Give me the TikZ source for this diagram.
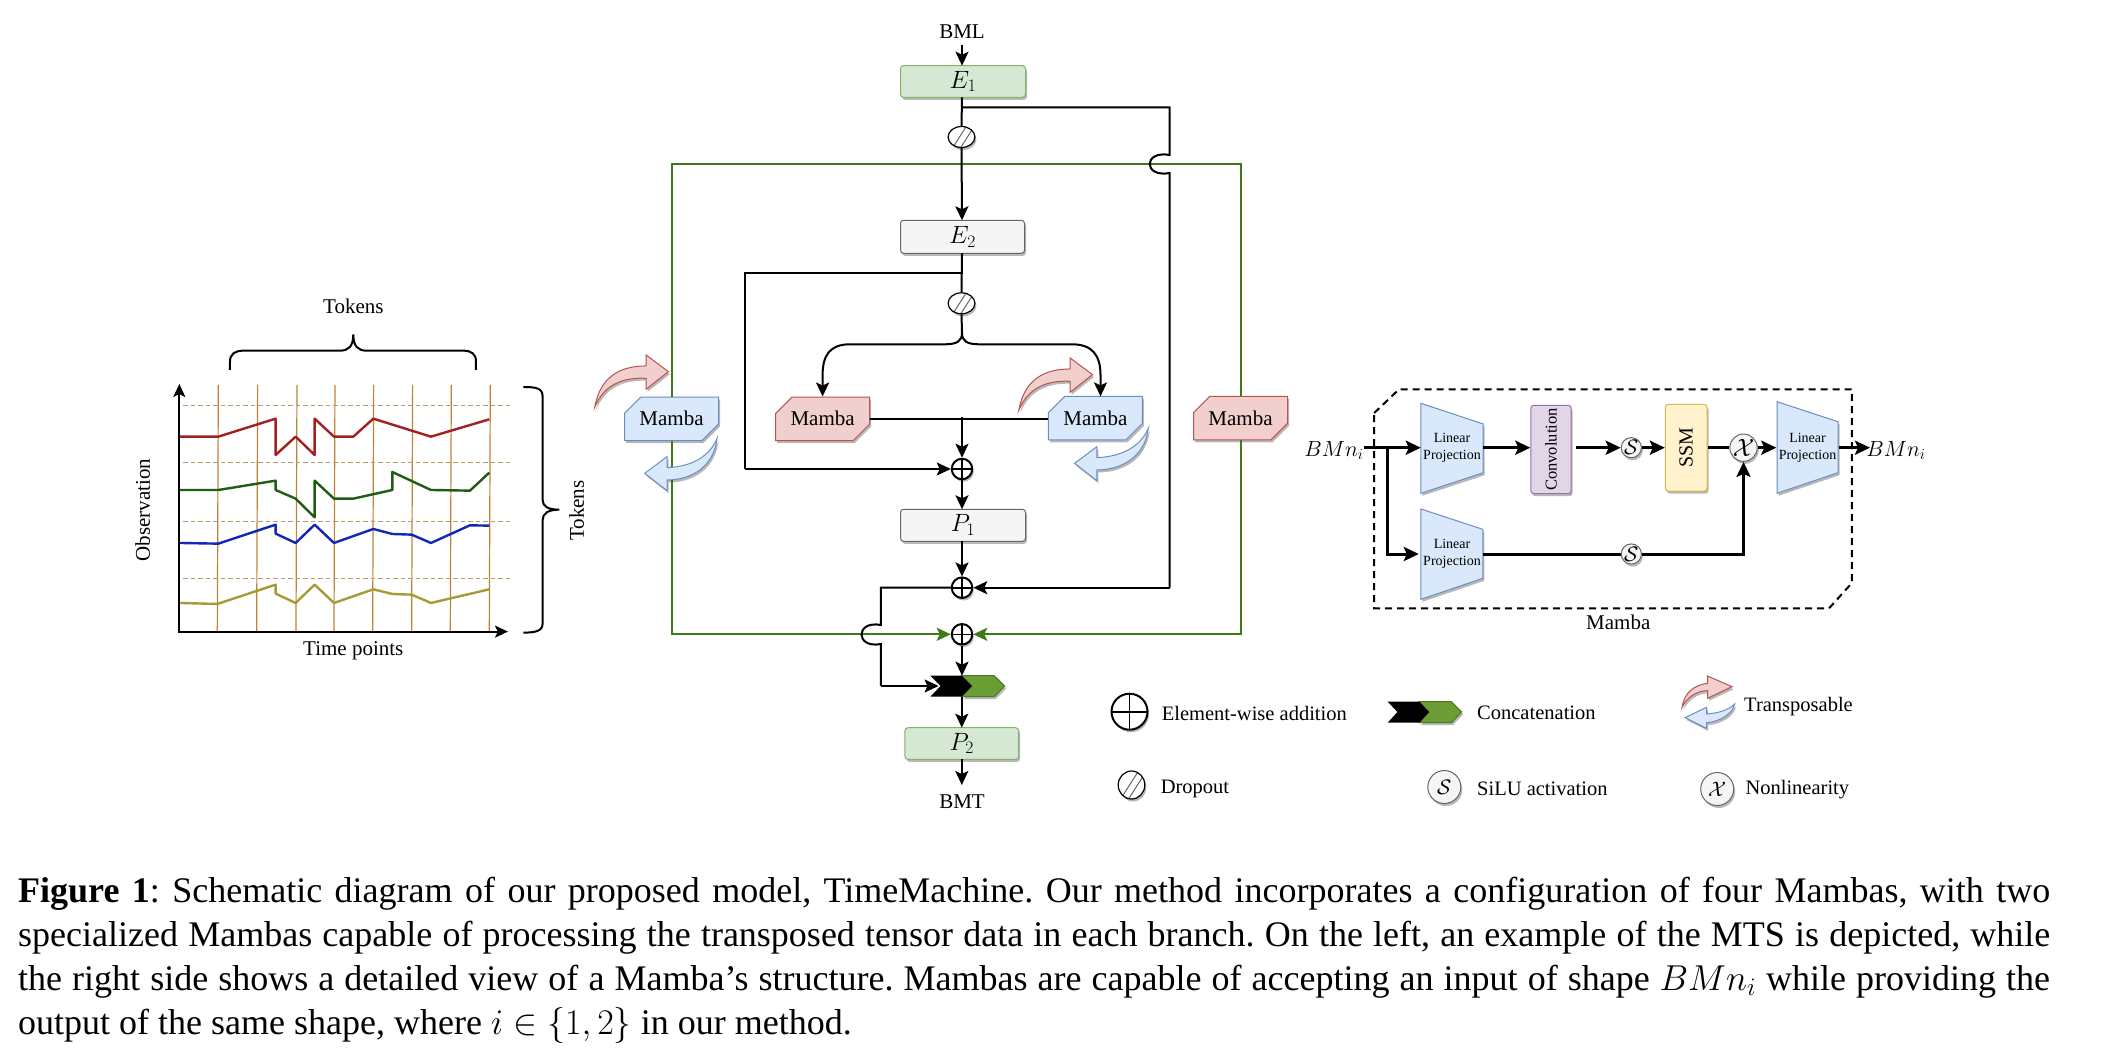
\documentclass[tikz,border=0pt]{standalone}
\usepackage{fix-cm}
\usepackage[no-math]{fontspec}
\setmainfont{Liberation Serif}
\usetikzlibrary{arrows.meta,shapes.misc,shapes.geometric,shadows}
\definecolor{gfill}{HTML}{D5E8D4}\definecolor{gline}{HTML}{82B366}
\definecolor{grayf}{HTML}{F5F5F5}\definecolor{grayl}{HTML}{666666}
\definecolor{rfill}{HTML}{F0CFCC}\definecolor{rline}{HTML}{B85450}
\definecolor{bfill}{HTML}{DAE8FC}\definecolor{bline}{HTML}{6C8EBF}
\definecolor{pfill}{HTML}{E1D5E7}\definecolor{pline}{HTML}{9673A6}
\definecolor{yfill}{HTML}{FFF2CC}\definecolor{yline}{HTML}{D6B656}
\definecolor{grn}{HTML}{3F7A18}\definecolor{chev}{HTML}{6A9E34}
\definecolor{grid}{HTML}{BF8338}\definecolor{dashc}{HTML}{BC9A6C}
\definecolor{ser1}{HTML}{A32020}\definecolor{ser2}{HTML}{1F5C14}
\definecolor{ser3}{HTML}{1226B8}\definecolor{ser4}{HTML}{A89A35}
\newcommand{\fsz}[1]{\fontsize{#1}{#1}\selectfont}
\newcommand{\blk}[1]{\fsz{25}$#1$}
\tikzset{
  x=1pt,y=-1pt,
  txt/.style={font=\fsz{21},inner sep=0pt},
  shd/.style={drop shadow={shadow xshift=1.5pt,shadow yshift=-2.5pt,opacity=.28,fill=black}},
  blockbox/.style={txt,draw,rounded corners=3pt,line width=1pt,inner sep=0pt,shd},
  gbox/.style={blockbox,draw=gline,fill=gfill},
  wbox/.style={blockbox,draw=grayl,fill=grayf},
  mamb/.style={txt,chamfered rectangle,chamfered rectangle corners={north west,south east},
     chamfered rectangle xsep=11pt,chamfered rectangle ysep=9pt,line width=1pt,draw,
     minimum width=94pt,minimum height=43.5pt,shd},
  mred/.style={mamb,draw=rline,fill=rfill},
  mblue/.style={mamb,draw=bline,fill=bfill},
  wire/.style={line width=2pt,black},
  arr/.style={wire,-{Stealth[length=14pt,width=13pt,inset=3pt]}},
  gwire/.style={line width=2pt,grn},
  garr/.style={gwire,-{Stealth[length=14pt,width=13pt,inset=3pt]}},
  tw/.style={line width=3pt,black},
  tarr/.style={tw,-{Stealth[length=15pt,width=14pt,inset=3pt]}},
  adder/.style={circle,draw,line width=2pt,fill=white,inner sep=0pt,minimum size=#1,shd,
     path picture={\draw[line width=1.6pt] (path picture bounding box.north) -- (path picture bounding box.south)
       (path picture bounding box.west) -- (path picture bounding box.east);}},
  dropc/.style={ellipse,draw,line width=1.2pt,fill=white,inner sep=0pt,shd,
     path picture={\draw[grayl,line width=1pt]
       ([xshift=-9pt,yshift=-11pt]path picture bounding box.center) -- ([xshift=7pt,yshift=14pt]path picture bounding box.center)
       ([xshift=-3pt,yshift=-14pt]path picture bounding box.center) -- ([xshift=13pt,yshift=11pt]path picture bounding box.center);}},
  act/.style={circle,draw=grayl,fill=grayf,line width=1pt,inner sep=0pt,minimum size=#1,shd},
  redc/.style={draw=rline,fill=rfill,line width=1pt,shd},
  bluec/.style={draw=bline,fill=bfill,line width=1pt,shd},
  trap/.style={draw=bline,fill=bfill,line width=1pt,shd},
  lab/.style={font=\fsz{14},inner sep=0pt,align=center},
  lp/.style={lab,minimum width=62pt,minimum height=40pt},
  leg/.style={font=\fsz{20.5},inner sep=0pt,anchor=west},
  ser/.style={line width=2.4pt,line join=round},
  gr/.style={grid,line width=1.2pt},
  dsh/.style={dashc,line width=1pt,dash pattern=on 4.5pt off 3pt},
}
\begin{document}
\begin{tikzpicture}
\fill[white] (0,0) rectangle (2108,1054);
\useasboundingbox (0,0) rectangle (2108,1054);

%% ---------- left chart (coordinates in zoom units)
\begin{scope}[shift={(120,280)},x=0.3333pt,y=-0.3333pt]
  \foreach \b/\t in {292/295,410/413,528/531,642/645,758/761,875/878,991/994,1108/1111}
    \draw[gr] (\b,1055) -- (\t,315);
  \foreach \y in {378,548,725,897} \draw[dsh] (190,\y) -- (1170,\y);
  \draw[ser,ser1] (180,470)--(295,470)--(467,416)--(467,525)--(527,470)--(584,525)--(584,416)--(642,470)--(700,470)--(760,416)--(933,470)--(1108,418);
  \draw[ser,ser2] (180,630)--(295,630)--(467,602)--(467,630)--(527,656)--(584,712)--(584,602)--(642,656)--(700,656)--(817,630)--(817,576)--(933,630)--(1050,632)--(1108,578);
  \draw[ser,ser3] (180,789)--(295,791)--(467,734)--(467,761)--(527,789)--(584,734)--(642,789)--(760,747)--(817,762)--(875,764)--(933,789)--(1050,736)--(1108,737);
  \draw[ser,ser4] (180,969)--(292,972)--(467,914)--(467,941)--(527,969)--(584,914)--(642,969)--(760,928)--(817,942)--(875,944)--(933,969)--(1108,928);
  \coordinate (org) at (178,1055);
  \coordinate (ytop) at (178,312);
  \coordinate (xend) at (1164,1055);
  \draw[line width=2pt] (330,270) -- (330,245) .. controls (330,222) and (345,212) .. (370,212) -- (660,212) .. controls (685,212) and (700,200) .. (700,163) .. controls (700,200) and (715,212) .. (740,212) -- (1030,212) .. controls (1055,212) and (1068,222) .. (1068,245) -- (1068,270);
  \draw[line width=2pt] (1210,321) .. controls (1250,321) and (1268,325) .. (1268,350) -- (1268,660) .. controls (1268,680) and (1285,689) .. (1318,689) .. controls (1285,689) and (1268,700) .. (1268,720) -- (1268,1030) .. controls (1268,1052) and (1250,1058) .. (1210,1058);
  \node[txt] (tok1) at (700,80) {Tokens};
  \node[txt] (tim) at (700,1113) {Time points};
  \node[txt,rotate=90] (obs) at (68,690) {Observation};
  \node[txt,rotate=90] (tok2) at (1370,692) {Tokens};
\end{scope}
\draw[line width=2pt,{Stealth[length=13pt,width=12pt,inset=3pt]}-{Stealth[length=13pt,width=12pt,inset=3pt]}] (ytop) -- (org) -- (xend);

%% ---------- centre: nodes
\node[txt] (bml) at (962,32) {BML};
\node[gbox,minimum width=125pt,minimum height=31.6pt] (e1) at (963,81.5) {\blk{E_1}};
\node[dropc,minimum width=26.8pt,minimum height=21pt] (d1) at (961.5,137) {};
\node[wbox,minimum width=124pt,minimum height=33pt] (e2) at (962.5,236.8) {\blk{E_2}};
\node[dropc,minimum width=26.8pt,minimum height=21pt] (d2) at (961.5,303.3) {};
\node[mblue] (m1) at (671.5,418.8) {Mamba};
\node[mred] (m2) at (822.6,418.8) {Mamba};
\node[mblue] (m3) at (1095.4,418) {Mamba};
\node[mred] (m4) at (1240.5,418) {Mamba};
\node[adder=20.5pt] (a1) at (962,469) {};
\node[wbox,minimum width=125pt,minimum height=32pt] (p1) at (963,525.3) {\blk{P_1}};
\node[adder=20.5pt] (a2) at (962,587.7) {};
\node[adder=20.5pt] (a3) at (962,634.3) {};
\node[gbox,minimum width=113.7pt,minimum height=31.6pt] (p2) at (961.8,743.5) {\blk{P_2}};
\node[txt] (bmt) at (962,801.7) {BMT};

% concatenation chevrons
\draw[fill=chev,draw=chev!75!black,line width=1pt,shd] (961.6,675.7)--(994.2,675.7)--(1004.7,686)--(994.2,696.7)--(961.6,696.7)--(971.9,686)--cycle;
\fill[black] (930.3,675.7)--(961.6,675.7)--(971.9,686)--(961.6,696.7)--(930.3,696.7)--(940.6,686)--cycle;
\coordinate (cctop) at (962,675.7);
\coordinate (ccin) at (938.5,686);
\coordinate (ccbot) at (961.8,696.7);

% curved transpose arrows
\begin{scope}[shift={(580,0)},x=0.4464pt,y=-0.3333pt]
  \draw[redc] (33,1222) .. controls (45,1130) and (90,1098) .. (148,1098) -- (148,1065) -- (198,1115) -- (148,1168) -- (148,1135) .. controls (100,1132) and (55,1150) .. (33,1222) -- cycle;
  \draw[redc] (983,1231) .. controls (995,1139) and (1040,1107) .. (1098,1107) -- (1098,1074) -- (1148,1124) -- (1098,1177) -- (1098,1144) .. controls (1050,1141) and (1005,1159) .. (983,1231) -- cycle;
\end{scope}

%% ---------- centre: connectors
\draw[gwire] (m1.north) -- (m1.north |- 0,164) -- (m4.north |- 0,164) -- (m4.north);
\draw[garr] (m1.south) -- (m1.south |- a3.west) -- (a3.west);
\draw[garr] (m4.south) -- (m4.south |- a3.east) -- (a3.east);

\begin{scope}[shift={(580,400)},x=0.4464pt,y=-0.3333pt]
  \draw[bluec] (307,115) .. controls (300,200) and (250,240) .. (195,240) -- (195,272) -- (145,220) -- (195,170) -- (195,203) .. controls (250,200) and (290,170) .. (307,115) -- cycle;
  \draw[bluec] (1273,85) .. controls (1266,170) and (1213,210) .. (1158,210) -- (1158,242) -- (1108,190) -- (1158,140) -- (1158,173) .. controls (1213,170) and (1256,140) .. (1273,85) -- cycle;
\end{scope}

\draw[arr] (962,45) -- (962,65.7);
\draw[wire] (962,97.3) -- (d1.north);
\draw[arr] (d1.south) -- (962,220.3);
\coordinate (j1a) at (1169.7,155);
\coordinate (j1b) at (1169.7,173);
\coordinate (br1) at (962,107.3);
\draw[wire] (br1) -- (1169.7,107.3) -- (j1a) .. controls (1143,150) and (1143,178) .. (j1b) -- (1169.7,587.7);
\draw[arr] (1169.7,587.7) -- (a2.east);
\draw[wire] (962,253.3) -- (d2.north);
\draw[wire] (962,272.7) -- (744.7,272.7) -- (744.7,469);
\draw[arr] (744.7,469) -- (a1.west);
\draw[wire] (d2.south) -- (962,333);
\draw[arr] (962,333) .. controls (962,341) and (957,344.3) .. (945,344.3) -- (850,344.3) .. controls (830,344.3) and (822.6,355) .. (822.6,375) -- (m2.north);
\draw[arr] (962,333) .. controls (962,341) and (967,344.3) .. (979,344.3) -- (1072,344.3) .. controls (1092,344.3) and (1100.5,355) .. (1100.5,375) -- (1100.5,396.4);
\draw[wire] (m2.east) -- (m3.west |- m2.east);
\draw[arr] (962,417) -- (a1.north);
\draw[arr] (a1.south) -- (962,509.3);
\draw[arr] (962,541.3) -- (a2.north);
\coordinate (j2a) at (880.9,625);
\coordinate (j2b) at (880.9,644);
\draw[wire] (a2.west) -- (880.9,587.7) -- (j2a) .. controls (855,620) and (855,649) .. (j2b) -- (880.9,685.9);
\draw[arr] (880.9,686) -- (ccin);
\draw[arr] (a3.south) -- (cctop);
\draw[arr] (ccbot) -- (961.8,727.7);
\draw[arr] (961.8,759.3) -- (961.8,785);

%% ---------- right: Mamba detail
\draw[line width=2pt,dash pattern=on 7pt off 5pt] (1374.2,413) -- (1399,389.3) -- (1851.9,389.3) -- (1851.9,583) -- (1829,608.3) -- (1374.2,608.3) -- cycle;
\draw[trap] (1420.9,403.3)--(1483.2,424)--(1483.2,472.7)--(1420.9,493.3)--cycle;
\draw[trap] (1420.9,509)--(1482.8,529.3)--(1482.8,578.3)--(1420.9,599.3)--cycle;
\draw[trap] (1777,401.7)--(1838,421.7)--(1838,472.7)--(1777,493.3)--cycle;
\node[lp] (lp1) at (1452,447.7) {Linear\\[2.5pt]Projection};
\node[lp] (lp2) at (1452,554) {Linear\\[2.5pt]Projection};
\node[lp] (lp3) at (1807.5,447.7) {Linear\\[2.5pt]Projection};
\node[blockbox,draw=pline,fill=pfill,rotate=90,minimum width=88.4pt,minimum height=40.4pt,font=\fsz{16.5}] (conv) at (1551,449.5) {Convolution};
\node[blockbox,draw=yline,fill=yfill,rotate=90,minimum width=86.7pt,minimum height=41.7pt,font=\fsz{20}] (ssm) at (1686.2,447.7) {SSM};
\node[act=20pt,font=\fsz{21}] (s1) at (1631.3,447.7) {$\mathcal{S}$};
\node[act=20pt,font=\fsz{21}] (s2) at (1631.3,554) {$\mathcal{S}$};
\node[act=24pt,font=\fsz{25}] (x1) at (1743.5,447.7) {$\mathcal{X}$};
\node[font=\fsz{22},inner sep=0pt] (bin) at (1334,450.7) {$BMn_i$};
\node[font=\fsz{22},inner sep=0pt] (bout) at (1896,450.7) {$BMn_i$};
\node[txt] (mname) at (1618.3,622.3) {Mamba};
\coordinate (tin) at (1363.7,447.7);
\coordinate (tbr) at (1387.6,447.7);
\coordinate (tout) at (1870,447.7);
\draw[tarr] (tin) -- (lp1.west);
\draw[tarr] (tbr) -- (tbr |- lp2.west) -- ([xshift=-2pt]lp2.west);
\draw[tarr] (lp1.east) -- (conv.north |- lp1.east);
\draw[tarr] ([xshift=4pt]conv.south |- lp1.east) -- (s1.west);
\draw[tarr] (s1.east) -- (ssm.north |- s1.east);
\draw[tw] (ssm.south |- s1.east) -- (x1.west);
\draw[tarr] (x1.east) -- (lp3.west);
\draw[tarr] (lp3.east) -- (tout);
\draw[tw] (lp2.east) -- (s2.west);
\draw[tarr] (s2.east) -- (x1.south |- s2.east) -- (x1.south);

%% ---------- legend
\node[adder=36pt] (la) at (1129.5,711.7) {};
\node[leg] (lat) at (1161.6,713.3) {Element-wise addition};
\draw[fill=chev,draw=chev!75!black,line width=1pt,shd] (1419.3,701.7)--(1451.4,701.7)--(1461.6,712)--(1451.4,722.7)--(1419.3,722.7)--(1429,712)--cycle;
\fill[black] (1387.7,701.7)--(1419.3,701.7)--(1429,712)--(1419.3,722.7)--(1387.7,722.7)--(1397.4,712)--cycle;
\node[leg] (lct) at (1477,713.3) {Concatenation};
\begin{scope}[shift={(1080,650)},x=0.5102pt,y=-0.3333pt]
  \draw[redc] (1180,172) .. controls (1185,125) and (1205,105) .. (1230,100) -- (1230,78) -- (1278,110) -- (1230,145) -- (1230,122) .. controls (1210,122) and (1190,140) .. (1180,172) -- cycle;
  \draw[bluec] (1283,162) .. controls (1280,190) and (1255,215) .. (1228,218) -- (1228,235) -- (1186,203) -- (1228,172) -- (1228,192) .. controls (1250,190) and (1272,180) .. (1283,162) -- cycle;
\end{scope}
\node[leg] (ltt) at (1744,706.8) {Transposable};
\node[dropc,minimum width=26.6pt,minimum height=28pt] (ld) at (1131.5,785) {};
\node[leg] (ldt) at (1160.6,789) {Dropout};
\node[act=33pt,font=\fsz{21}] (ls) at (1444.3,787) {$\mathcal{S}$};
\node[leg] (lst) at (1477,789.3) {SiLU activation};
\node[act=33pt,font=\fsz{21}] (lx) at (1717.2,789) {$\mathcal{X}$};
\node[leg] (lxt) at (1745.3,790) {Nonlinearity};

%% ---------- caption
\node[anchor=north west,inner sep=0pt,text width=2032pt,align=justify,font=\fontsize{36}{43.9}\selectfont] (cap) at (18,877)
{\frenchspacing\textbf{Figure 1}: Schematic diagram of our proposed model, TimeMachine. Our method incorporates a configuration of four Mambas, with two\linebreak
specialized Mambas capable of processing the transposed tensor data in each branch. On the left, an example of the MTS is depicted, while\linebreak
the right side shows a detailed view of a Mamba’s structure. Mambas are capable of accepting an input of shape $BMn_i$ while providing the\linebreak
output of the same shape, where $i\in\{1,2\}$ in our method.};
\end{tikzpicture}
\end{document}
